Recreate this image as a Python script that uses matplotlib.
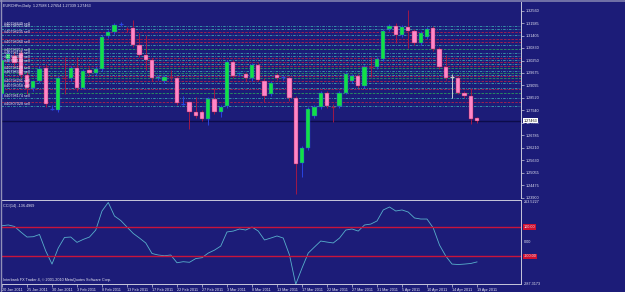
import matplotlib.pyplot as plt

# EURCHFm daily candles, 20 Jan 2011 .. 19 Apr 2011
opens = [1.2868, 1.3034, 1.3047, 1.3061, 1.2960, 1.2900, 1.2932, 1.2992, 1.2801, 1.2794,
         1.2946, 1.2942, 1.2992, 1.2900, 1.2983, 1.2969, 1.2988, 1.3139, 1.3158, 1.3192,
         1.3172, 1.3176, 1.3098, 1.3052, 1.3029, 1.2944, 1.2928, 1.2951, 1.2946, 1.2825,
         1.2831, 1.2785, 1.2785, 1.2753, 1.2845, 1.2785, 1.2813, 1.3020, 1.2962, 1.2965,
         1.2942, 1.3006, 1.2932, 1.2868, 1.2960, 1.2946, 1.2946, 1.2850, 1.2551, 1.2620,
         1.2767, 1.2808, 1.2873, 1.2813, 1.2813, 1.2877, 1.2932, 1.2955, 1.2905, 1.2997,
         1.2997, 1.3034, 1.3172, 1.3185, 1.3144, 1.3181, 1.3162, 1.3107, 1.3135, 1.3176,
         1.3080, 1.2997, 1.2951, 1.2946, 1.2877, 1.2859, 1.2759]
highs = [1.3043, 1.3075, 1.3066, 1.3075, 1.2974, 1.2937, 1.3001, 1.3011, 1.2817, 1.2955,
         1.3043, 1.3001, 1.3043, 1.2988, 1.2997, 1.3001, 1.3144, 1.3167, 1.3199, 1.3204,
         1.3181, 1.3213, 1.3153, 1.3144, 1.3038, 1.2960, 1.2960, 1.2983, 1.2955, 1.2863,
         1.2840, 1.2854, 1.2794, 1.2854, 1.2900, 1.2817, 1.3029, 1.3029, 1.2974, 1.2974,
         1.3015, 1.3015, 1.2942, 1.2932, 1.2969, 1.2955, 1.2955, 1.2859, 1.2629, 1.2808,
         1.2817, 1.2882, 1.2882, 1.2822, 1.2886, 1.2974, 1.2965, 1.2965, 1.3006, 1.3043,
         1.3043, 1.3172, 1.3195, 1.3199, 1.3190, 1.3259, 1.3172, 1.3162, 1.3181, 1.3185,
         1.3089, 1.3052, 1.2965, 1.2955, 1.2886, 1.2900, 1.2765]
lows = [1.2854, 1.3020, 1.3001, 1.2946, 1.2868, 1.2886, 1.2919, 1.2808, 1.2794, 1.2785,
        1.2868, 1.2928, 1.2886, 1.2891, 1.2960, 1.2960, 1.2978, 1.3130, 1.3149, 1.3185,
        1.3158, 1.3089, 1.3043, 1.2983, 1.2932, 1.2937, 1.2919, 1.2937, 1.2817, 1.2817,
        1.2707, 1.2758, 1.2744, 1.2725, 1.2776, 1.2762, 1.2804, 1.2946, 1.2955, 1.2932,
        1.2932, 1.2928, 1.2831, 1.2859, 1.2937, 1.2937, 1.2840, 1.2408, 1.2486, 1.2610,
        1.2758, 1.2799, 1.2804, 1.2739, 1.2804, 1.2868, 1.2923, 1.2896, 1.2896, 1.2951,
        1.2988, 1.3024, 1.3162, 1.3107, 1.3135, 1.3084, 1.3098, 1.3098, 1.3126, 1.3070,
        1.2988, 1.2937, 1.2850, 1.2868, 1.2850, 1.2730, 1.2734]
closes = [1.3029, 1.3057, 1.3015, 1.2960, 1.2900, 1.2928, 1.2988, 1.2822, 1.2803, 1.2942,
          1.2944, 1.2992, 1.2900, 1.2978, 1.2969, 1.2988, 1.3135, 1.3158, 1.3190, 1.3194,
          1.3170, 1.3098, 1.3052, 1.3029, 1.2942, 1.2949, 1.2951, 1.2949, 1.2827, 1.2827,
          1.2785, 1.2767, 1.2753, 1.2845, 1.2785, 1.2808, 1.3020, 1.2955, 1.2967, 1.2942,
          1.3006, 1.2937, 1.2863, 1.2923, 1.2946, 1.2948, 1.2850, 1.2546, 1.2620, 1.2799,
          1.2808, 1.2873, 1.2813, 1.2811, 1.2877, 1.2965, 1.2955, 1.2905, 1.2997, 1.2995,
          1.3034, 1.3162, 1.3185, 1.3144, 1.3181, 1.3162, 1.3107, 1.3153, 1.3172, 1.3080,
          1.2997, 1.2946, 1.2951, 1.2877, 1.2859, 1.2753, 1.2746]

# CCI(14) values per bar
cci = [107, 112, 102, 65, 31, 33, 48, -63, -151, -43,
       28, 31, -5, 15, 31, 78, 206, 263.5, 172, 142,
       98, 55, 24, -9, -80, -90, -95, -90, -142, -135,
       -139, -114, -108, -77, -57, -30, 65, 71, 85, 78,
       98, 71, 11, 24, 38, 24, -90, -287.3, -178, -77,
       -36, 4, -3, -9, 24, 78, 85, 71, 112, 118,
       139, 213, 233, 206, 213, 199, 159, 152, 152, 92,
       -23, -97, -151, -154, -151, -147, -136.5]

date_labels = ['20 Jan 2011', '25 Jan 2011', '30 Jan 2011', '3 Feb 2011', '8 Feb 2011',
               '13 Feb 2011', '17 Feb 2011', '22 Feb 2011', '27 Feb 2011', '3 Mar 2011',
               '8 Mar 2011', '13 Mar 2011', '17 Mar 2011', '22 Mar 2011', '27 Mar 2011',
               '31 Mar 2011', '5 Apr 2011', '10 Apr 2011', '14 Apr 2011', '19 Apr 2011']

price_ticks = [1.32560, 1.31985, 1.31405, 1.30830, 1.30250, 1.29675, 1.29095, 1.28520,
               1.27940, 1.27365, 1.26785, 1.26210, 1.25630, 1.25055, 1.24475, 1.23900]

# open orders (sell) and their stop / target lines
order_prices = [1.3185, 1.3172, 1.3144, 1.3098, 1.3061, 1.3047, 1.3029, 1.3011,
                1.2978, 1.2960, 1.2919, 1.2896, 1.2850, 1.2813]
order_names = ['#40798649 sell', '#40798071 sell', '#40798235 sell', '#40798060 sell',
               '#40798213 sell', '#40798125 sell', '#40798067 sell', '#40798184 sell',
               '#40798120 sell', '#40798347 sell', '#40798291 sell', '#40798058 sell',
               '#40798174 sell', '#40807028 sell']
stop_prices = [1.3158, 1.3126, 1.3112, 1.3038, 1.3020, 1.3001, 1.2955, 1.2928, 1.2891, 1.2831]
target_prices = [1.3080, 1.2992, 1.2969, 1.2942, 1.2873]

bid = 1.27463

bg = '#1c1c78'
fg = '#e8e8f4'
up_body, down_body = '#12e046', '#ff86c8'
up_wick, down_wick = '#2a44e0', '#a01848'
frame = '#c8c8dc'

plt.rcParams['font.family'] = ['Liberation Sans', 'DejaVu Sans']
fs = 2.7

W, H = 625, 292
fig = plt.figure(figsize=(W / 100, H / 100), dpi=100, facecolor=bg)


def px_axes(x0, y0, x1, y1):
    return fig.add_axes([x0 / W, 1 - y1 / H, (x1 - x0) / W, (y1 - y0) / H])


ax = px_axes(1, 2, 521, 198)
ax2 = px_axes(1, 200, 521, 284)
for a in (ax, ax2):
    a.set_facecolor(bg)
    a.set_xlim(-0.16, 83.04)
    for s in a.spines.values():
        s.set_color(frame)
        s.set_linewidth(0.7)
    a.spines['left'].set_visible(False)

ax.spines['top'].set_visible(False)
ax.spines['bottom'].set_visible(False)
ax.set_ylim(1.2389, 1.32958)

# order lines
for p in order_prices:
    ax.axhline(p, color='#3aa4b0', lw=0.6, dashes=(3, 1.5, 1, 1.5), zorder=1)
for p in stop_prices:
    ax.axhline(p, color='#b0204c', lw=0.6, dashes=(3, 1.5), zorder=1)
for p in target_prices:
    ax.axhline(p, color='#2a9a60', lw=0.6, dashes=(3, 1.5), zorder=1)
for p, name in zip(order_prices, order_names):
    ax.text(0.25, p + 0.0002, name, fontsize=fs, color=fg, va='bottom', ha='left', zorder=5)

# bid line
ax.axhline(bid, color='#0c0c4a', lw=1.0, zorder=1)

# candles
n = len(opens)
for i in range(n):
    o, h, l, c = opens[i], highs[i], lows[i], closes[i]
    if c > o:
        wick, body = up_wick, up_body
    elif c < o:
        wick, body = down_wick, down_body
    else:
        wick, body = '#c8c8d0', None
    ax.vlines(i, l, h, color=wick, lw=0.7, zorder=2)
    if abs(c - o) < 0.0003 or body is None:
        ax.hlines((o + c) / 2, i - 0.35, i + 0.35, color=wick, lw=0.9, zorder=3)
    else:
        ax.bar(i, abs(c - o), bottom=min(o, c), width=0.66, color=body,
               edgecolor=wick, linewidth=0.3, zorder=3)

ax.set_xticks([])
ax.yaxis.tick_right()
ax.set_yticks(price_ticks)
ax.set_yticklabels(['%.5f' % p for p in price_ticks])
ax.tick_params(axis='y', colors=frame, labelcolor=fg, labelsize=fs, length=2, width=0.5, pad=1.5)

ax.annotate('%.5f' % bid, xy=(1.0, bid), xycoords=('axes fraction', 'data'),
            xytext=(2, 0), textcoords='offset points', fontsize=fs, color='black',
            va='center', ha='left', annotation_clip=False,
            bbox=dict(boxstyle='square,pad=0.15', fc='white', ec='none'))

# CCI window
ax2.plot(range(n), cci, color='#58b0cc', lw=0.6)
for lvl in (100, -100):
    ax2.axhline(lvl, color='#c8143c', lw=1.0)
ax2.set_ylim(-285, 280)
ax2.set_yticks([])
ax2.set_xticks(range(0, n, 4))
ax2.set_xticklabels(date_labels)
ax2.tick_params(axis='x', colors=frame, labelcolor=fg, labelsize=fs, length=2, width=0.5, pad=0.8)
for t in ax2.get_xticklabels():
    t.set_ha('left')

for v, txt, box in [(263.5, '263.5227', None), (0, '0.00', None), (-287.3, '-287.3173', None),
                    (100, '100.00', '#d01030'), (-100, '-100.00', '#d01030')]:
    kw = dict(fontsize=fs, color=fg, va='center', ha='left', annotation_clip=False)
    if box:
        kw['bbox'] = dict(boxstyle='square,pad=0.2', fc=box, ec='none')
    ax2.annotate(txt, xy=(1.0, v), xycoords=('axes fraction', 'data'),
                 xytext=(2, 0), textcoords='offset points', **kw)

ax2.text(0.004, 0.93, 'CCI(14) -136.4969', transform=ax2.transAxes, fontsize=fs,
         color=fg, va='center', ha='left')
ax2.text(0.004, 0.05, 'Interbank FX Trader 4, \u00a9 2001-2010 MetaQuotes Software Corp.',
         transform=ax2.transAxes, fontsize=fs, color=fg, va='center', ha='left')

fig.text(3 / W, 1 - 5.5 / H, 'EURCHFm,Daily  1.27588 1.27654 1.27339 1.27463',
         fontsize=fs, color=fg, va='center', ha='left')

# window frame
fig.add_artist(plt.Line2D([0, 1], [1 - 0.5 / H, 1 - 0.5 / H], color='#8080b0', lw=1.2))
fig.add_artist(plt.Line2D([0.5 / W, 0.5 / W], [0, 1], color='#9090b8', lw=1.0))

fig.savefig('out.png', dpi=100, facecolor=bg)
